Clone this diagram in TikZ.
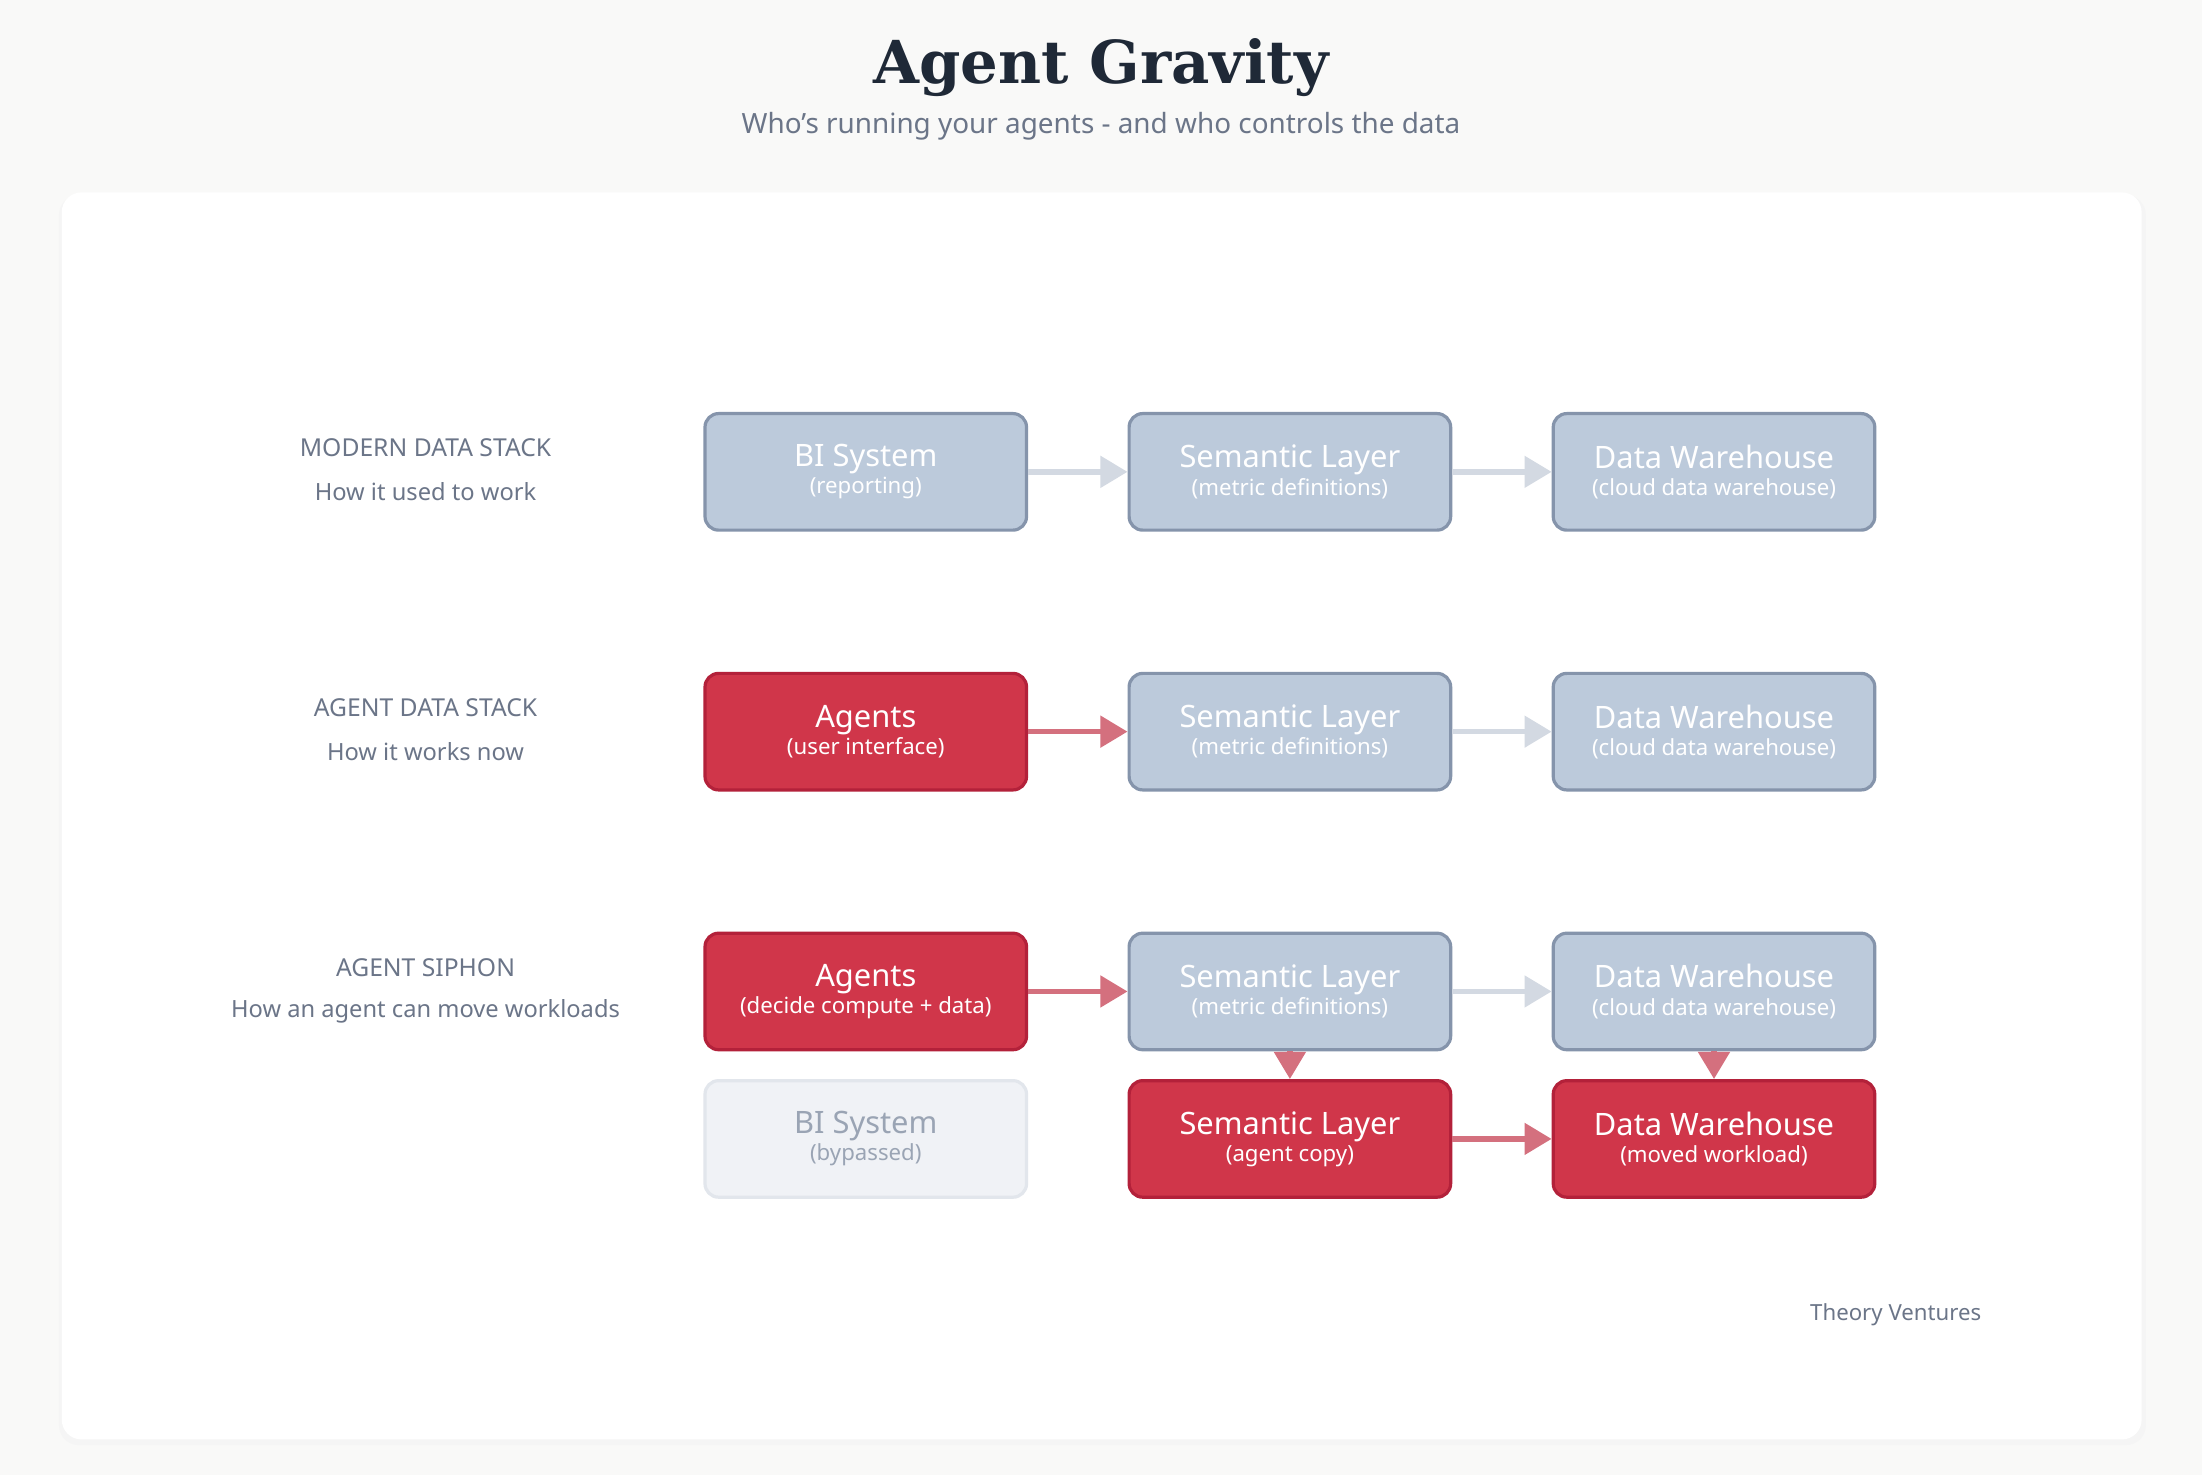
\documentclass[tikz,border=0pt]{standalone}
\usepackage{fontspec}
\setmainfont{Noto Sans}
\newfontfamily\headfont{DejaVu Serif}
\usetikzlibrary{positioning,arrows.meta}
\definecolor{pagebg}{HTML}{F9F9F8}
\definecolor{slatefill}{HTML}{BCCADB}
\definecolor{slateline}{HTML}{8594AB}
\definecolor{hotfill}{HTML}{D0364A}
\definecolor{hotline}{HTML}{B3213A}
\definecolor{fadefill}{HTML}{F0F2F6}
\definecolor{fadeline}{HTML}{E2E6EC}
\definecolor{fadetext}{HTML}{9AA4B4}
\definecolor{greyarrow}{HTML}{D3D9E2}
\definecolor{hotarrow}{HTML}{D4707E}
\definecolor{labeltext}{HTML}{6B7588}
\definecolor{titletext}{HTML}{1F2937}
\newcommand{\boxtext}[2]{{\bfseries\fontsize{12.5}{16}\selectfont #1}\\[-1pt]{\fontsize{9}{16}\selectfont #2}}
\tikzset{
  box/.style={draw=slateline,fill=slatefill,text=white,line width=1.3pt,rounded corners=5.5pt,
     minimum width=4.58cm,minimum height=1.66cm,align=center,inner sep=0pt},
  hot/.style={box,draw=hotline,fill=hotfill},
  faded/.style={box,draw=fadeline,fill=fadefill,text=fadetext},
  flow/.style={line width=2.2pt,greyarrow,-{Triangle[width=12.5pt,length=11pt]}},
  hotflow/.style={flow,hotarrow},
  rowhead/.style={text=labeltext,font=\bfseries\fontsize{10}{12}\selectfont,align=center},
  rowsub/.style={text=labeltext,font=\fontsize{9.6}{12}\selectfont,align=center}
}
\begin{document}
\begin{tikzpicture}[x=0.02cm,y=-0.02cm]
  % page and card
  \useasboundingbox[fill=pagebg] (0,0) rectangle (1568,1050);
  \fill[black!4,rounded corners=8pt] (42,139) rectangle (1528,1029);
  \fill[white,rounded corners=8pt] (44,137) rectangle (1525,1025);
  % heading
  \node[text=titletext,font=\headfont\bfseries\fontsize{24}{28}\selectfont] (title) at (784,48) {Agent Gravity};
  \node[text=labeltext,font=\fontsize{11.3}{14}\selectfont] (subtitle) at (784,90) {Who's running your agents - and who controls the data};
  % row labels
  \node[rowhead] (h1) at (303,319) {MODERN DATA STACK};
  \node[rowsub] (s1) at (303,350) {How it used to work};
  \node[rowhead] (h2) at (303,504) {AGENT DATA STACK};
  \node[rowsub] (s2) at (303,535) {How it works now};
  \node[rowhead] (h3) at (303,689) {AGENT SIPHON};
  \node[rowsub] (s3) at (303,720) {How an agent can move workloads};
  % modern stack
  \node[box] (bi) at (616.5,336) {\boxtext{BI System}{(reporting)}};
  \node[box] (sem1) at (918.5,336) {\boxtext{Semantic Layer}{(metric definitions)}};
  \node[box] (dw1) at (1220.5,336) {\boxtext{Data Warehouse}{(cloud data warehouse)}};
  % agent stack
  \node[hot] (ag2) at (616.5,521) {\boxtext{Agents}{(user interface)}};
  \node[box] (sem2) at (918.5,521) {\boxtext{Semantic Layer}{(metric definitions)}};
  \node[box] (dw2) at (1220.5,521) {\boxtext{Data Warehouse}{(cloud data warehouse)}};
  % siphon
  \node[hot] (ag3) at (616.5,706) {\boxtext{Agents}{(decide compute + data)}};
  \node[box] (sem3) at (918.5,706) {\boxtext{Semantic Layer}{(metric definitions)}};
  \node[box] (dw3) at (1220.5,706) {\boxtext{Data Warehouse}{(cloud data warehouse)}};
  \node[faded] (bi3) at (616.5,811) {\boxtext{BI System}{(bypassed)}};
  \node[hot] (semc) at (918.5,811) {\boxtext{Semantic Layer}{(agent copy)}};
  \node[hot] (dwm) at (1220.5,811) {\boxtext{Data Warehouse}{(moved workload)}};
  % connectors
  \draw[flow] (bi) -- (sem1);
  \draw[flow] (sem1) -- (dw1);
  \draw[hotflow] (ag2) -- (sem2);
  \draw[flow] (sem2) -- (dw2);
  \draw[hotflow] (ag3) -- (sem3);
  \draw[flow] (sem3) -- (dw3);
  \draw[hotflow] (sem3) -- (semc);
  \draw[hotflow] (dw3) -- (dwm);
  \draw[hotflow] (semc) -- (dwm);
  % credit
  \node[text=labeltext,font=\fontsize{9}{11}\selectfont,anchor=east] (credit) at (1417,936) {Theory Ventures};
\end{tikzpicture}
\end{document}
